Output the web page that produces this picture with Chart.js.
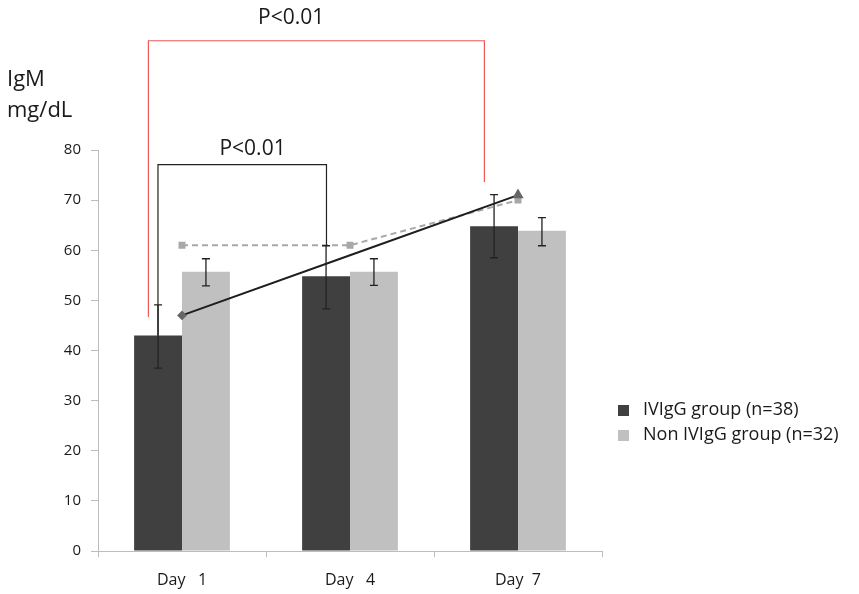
<!DOCTYPE html>
<html>
<head>
<meta charset="utf-8">
<script src="https://cdn.jsdelivr.net/npm/chart.js@4"></script>
<style>
  html, body { margin: 0; padding: 0; background: #fff; }
  #wrap { width: 859px; height: 594px; }
</style>
</head>
<body>
<div id="wrap"><canvas id="chart1" width="859" height="594"></canvas></div>
<script>
// data
const days = ['Day   1', 'Day   4', 'Day  7'];
const ivigMean = [43, 54.8, 64.8];
const ivigHigh = [49.1, 60.9, 71.1];
const ivigLow = [36.5, 48.3, 58.5];
const nonMean = [55.7, 55.7, 63.9];
const nonHigh = [58.3, 58.3, 66.5];
const nonLow = [52.9, 53.0, 60.9];
const ivigTrend = [47, 59, 71];
const nonTrend = [61, 61, 70];
const yTicks = [0, 10, 20, 30, 40, 50, 60, 70, 80];

// significance brackets: x in category units, y in mg/dL
const brackets = [
    { color: '#f05a5a', x1: -0.2, x2: 1.8, top: 101.8, end1: 46.7, end2: 73.6, labelX: 0.65, labelY: 106.4 },
    { color: '#222222', x1: -0.143, x2: 0.86, top: 77.1, end1: 43, end2: 60.9, labelX: 0.42, labelY: 80.2 }
];

const font = '"Open Sans", "DejaVu Sans", sans-serif';
const textColor = '#1a1a1a';

// error bars + brackets + y title + legend
const extras = {
    id: 'extras',
    afterDatasetsDraw(chart) {
        const ctx = chart.ctx;
        const x = chart.scales.x;
        const y = chart.scales.y;

        // error bars on both bar series
        const errs = [[ivigHigh, ivigLow], [nonHigh, nonLow]];
        errs.forEach((e, di) => {
            const meta = chart.getDatasetMeta(di);
            meta.data.forEach((bar, i) => {
                const yh = y.getPixelForValue(e[0][i]);
                const yl = y.getPixelForValue(e[1][i]);
                ctx.save();
                ctx.strokeStyle = '#222';
                ctx.lineWidth = 1.3;
                ctx.beginPath();
                ctx.moveTo(bar.x, yh); ctx.lineTo(bar.x, yl);
                ctx.moveTo(bar.x - 4, yh); ctx.lineTo(bar.x + 4, yh);
                ctx.moveTo(bar.x - 4, yl); ctx.lineTo(bar.x + 4, yl);
                ctx.stroke();
                ctx.restore();
            });
        });

        // brackets
        brackets.forEach(b => {
            const px1 = x.getPixelForValue(b.x1);
            const px2 = x.getPixelForValue(b.x2);
            const pt = y.getPixelForValue(b.top);
            ctx.save();
            ctx.strokeStyle = b.color;
            ctx.lineWidth = 1.2;
            ctx.beginPath();
            ctx.moveTo(px1, y.getPixelForValue(b.end1));
            ctx.lineTo(px1, pt);
            ctx.lineTo(px2, pt);
            ctx.lineTo(px2, y.getPixelForValue(b.end2));
            ctx.stroke();
            ctx.fillStyle = textColor;
            ctx.font = '21px ' + font;
            ctx.textAlign = 'center';
            ctx.textBaseline = 'middle';
            ctx.fillText('P<0.01', x.getPixelForValue(b.labelX), y.getPixelForValue(b.labelY));
            ctx.restore();
        });

        // y axis title
        ctx.save();
        ctx.fillStyle = textColor;
        ctx.font = '22px ' + font;
        ctx.textAlign = 'left';
        ctx.textBaseline = 'middle';
        ctx.fillText('IgM', 7, 80);
        ctx.fillText('mg/dL', 7, 111);
        ctx.restore();

        // legend (bar series only)
        const items = [chart.data.datasets[0], chart.data.datasets[1]];
        ctx.save();
        ctx.font = '18px ' + font;
        ctx.textBaseline = 'middle';
        items.forEach((ds, i) => {
            const ly = 410 + i * 25;
            ctx.fillStyle = ds.backgroundColor;
            ctx.fillRect(618, ly - 5, 11, 11);
            ctx.fillStyle = textColor;
            ctx.fillText(ds.label, 643, ly);
        });
        ctx.restore();
    }
};

new Chart(document.getElementById('chart1'), {
    type: 'bar',
    data: {
        labels: days,
        datasets: [
            { label: 'IVIgG group (n=38)', data: ivigMean, backgroundColor: '#404040', order: 3 },
            { label: 'Non IVIgG group (n=32)', data: nonMean, backgroundColor: '#c0c0c0', order: 3 },
            {
                type: 'line', label: 'IVIgG trend', data: ivigTrend, order: 1,
                borderColor: '#1e1e1e', borderWidth: 2, fill: false, tension: 0,
                pointStyle: ['rectRot', 'rectRot', 'triangle'], pointRadius: [3.5, 0, 4.5],
                pointBackgroundColor: '#666', pointBorderColor: '#666'
            },
            {
                type: 'line', label: 'Non IVIgG trend', data: nonTrend, order: 2,
                borderColor: '#a8a8a8', borderWidth: 2, borderDash: [6, 4], fill: false, tension: 0,
                pointStyle: 'rect', pointRadius: 3.5,
                pointBackgroundColor: '#a8a8a8', pointBorderColor: '#a8a8a8'
            }
        ]
    },
    options: {
        responsive: false,
        animation: false,
        layout: { padding: { left: 0, right: 257, top: 150, bottom: 0 } },
        datasets: { bar: { categoryPercentage: 0.57, barPercentage: 1.0 } },
        plugins: { legend: { display: false }, tooltip: { enabled: false } },
        scales: {
            x: {
                offset: true,
                afterFit: s => { s.height = 43; },
                grid: { offset: true, drawOnChartArea: false, drawTicks: true, tickLength: 6, color: '#bdbdbd' },
                border: { color: '#bdbdbd' },
                ticks: { color: textColor, font: { family: font, size: 16 }, padding: 14, maxRotation: 0 }
            },
            y: {
                min: 0, max: 80,
                afterFit: s => { s.width = 98; },
                afterBuildTicks: s => { s.ticks = yTicks.map(v => ({ value: v })); },
                grid: { drawOnChartArea: false, drawTicks: true, tickLength: 7, color: '#bdbdbd' },
                border: { color: '#bdbdbd' },
                ticks: { color: textColor, font: { family: font, size: 15 }, padding: 10 }
            }
        }
    },
    plugins: [extras]
});
</script>
</body>
</html>
